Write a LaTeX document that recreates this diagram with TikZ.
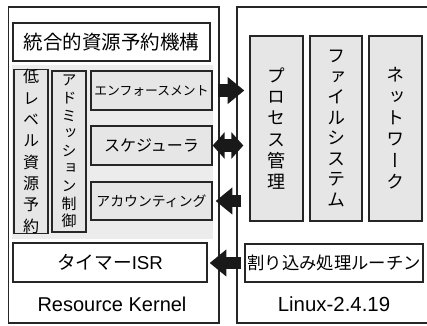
\documentclass[tikz,border=0pt]{standalone}
\usepackage{fontspec}
\setmainfont{Liberation Sans}
\newfontfamily\jp{Noto Sans CJK JP}
\newfontfamily\jpv[RawFeature=+vert]{Noto Sans CJK JP}
\usetikzlibrary{arrows.meta}
\definecolor{boxgray}{HTML}{E6E6E6}
\definecolor{areagray}{HTML}{ECECEC}
\begin{document}
\begin{tikzpicture}[x=0.75pt, y=-0.75pt,
  sz/.style 2 args={minimum width=#1*0.75pt, minimum height=#2*0.75pt},
  outer/.style={draw=black!85, line width=1.1pt, rectangle, inner sep=0pt},
  box/.style={draw=black!85, line width=1pt, rectangle, inner sep=0pt, fill=white},
  gbox/.style={box, fill=boxgray},
  vtext/.style={align=center, font=\jpv\fontsize{#1}{16}\selectfont},
  fat/.style={line width=9.5pt, draw=black!90},
  tip/.style={-{Triangle[width=19.5pt,length=12.5pt]}}]
\useasboundingbox (0,0) rectangle (427,325);
\node[outer, sz={210.5}{316}] (rk) at (113.75,165) {};
\node[outer, sz={191.5}{316}] (lx) at (332.75,165) {};
\node[font=\fontsize{15}{17}\selectfont] (rkname) at (112,304) {Resource Kernel};
\node[font=\fontsize{15.3}{17}\selectfont] (lxname) at (334,304) {Linux-2.4.19};
\node[fill=areagray, sz={201}{174}] (area) at (112.5,152) {};
\node[box, sz={197}{38}, font=\jp\fontsize{14.6}{16}\selectfont] (top) at (111.5,42) {統合的資源予約機構};
\node[gbox, sz={34}{161}, vtext=12] (low) at (31,151.5) {低\\レ\\ベ\\ル\\資\\源\\予\\約};
\node[gbox, sz={34}{161}, vtext=11.2, font=\jpv\fontsize{11.2}{13.2}\selectfont] (adm) at (69,151.5) {ア\\ド\\ミ\\ッ\\シ\\ョ\\ン\\制\\御};
\node[gbox, sz={121}{39}, font=\jp\fontsize{9.6}{11}\selectfont] (enf) at (151.5,90.5) {エンフォースメント};
\node[gbox, sz={121}{39}, font=\jp\fontsize{12}{14}\selectfont] (sch) at (151.5,145.5) {スケジューラ};
\node[gbox, sz={121}{38}, font=\jp\fontsize{10.4}{12}\selectfont] (acc) at (151.5,201) {アカウンティング};
\node[box, sz={194}{39}, font=\fontsize{14}{16}\selectfont] (tmr) at (110,262.5) {{\jp タイマー}ISR};
\node[gbox, sz={53}{185}, vtext=13.5] (proc) at (276.5,128.5) {プ\\ロ\\セ\\ス\\管\\理};
\node[gbox, sz={52}{185}, vtext=13.5, font=\jpv\fontsize{13.5}{15.4}\selectfont] (fs) at (336,128.5) {フ\\ァ\\イ\\ル\\シ\\ス\\テ\\ム};
\node[gbox, sz={53}{185}, vtext=13.5] (net) at (395.5,128.5) {ネ\\ッ\\ト\\ワ\\ー\\ク};
\node[box, sz={178}{38}, font=\jp\fontsize{13}{15}\selectfont] (irq) at (334,263) {割り込み処理ルーチン};
\draw[fat, tip, shorten <=3.75pt, shorten >=3.75pt] (enf.east) -- (enf.east -| proc.west);
\draw[fat, {Triangle[width=19.5pt,length=9pt]}-{Triangle[width=19.5pt,length=9pt]}, shorten >=4.5pt] (sch.east) -- (sch.east -| proc.west);
\draw[fat, tip, shorten <=6pt, shorten >=2.25pt] (acc.east -| proc.west) -- (acc.east);
\draw[fat, tip, shorten <=2.25pt, shorten >=1.5pt] (irq.west) -- (tmr.east |- irq.west);
\end{tikzpicture}
\end{document}
